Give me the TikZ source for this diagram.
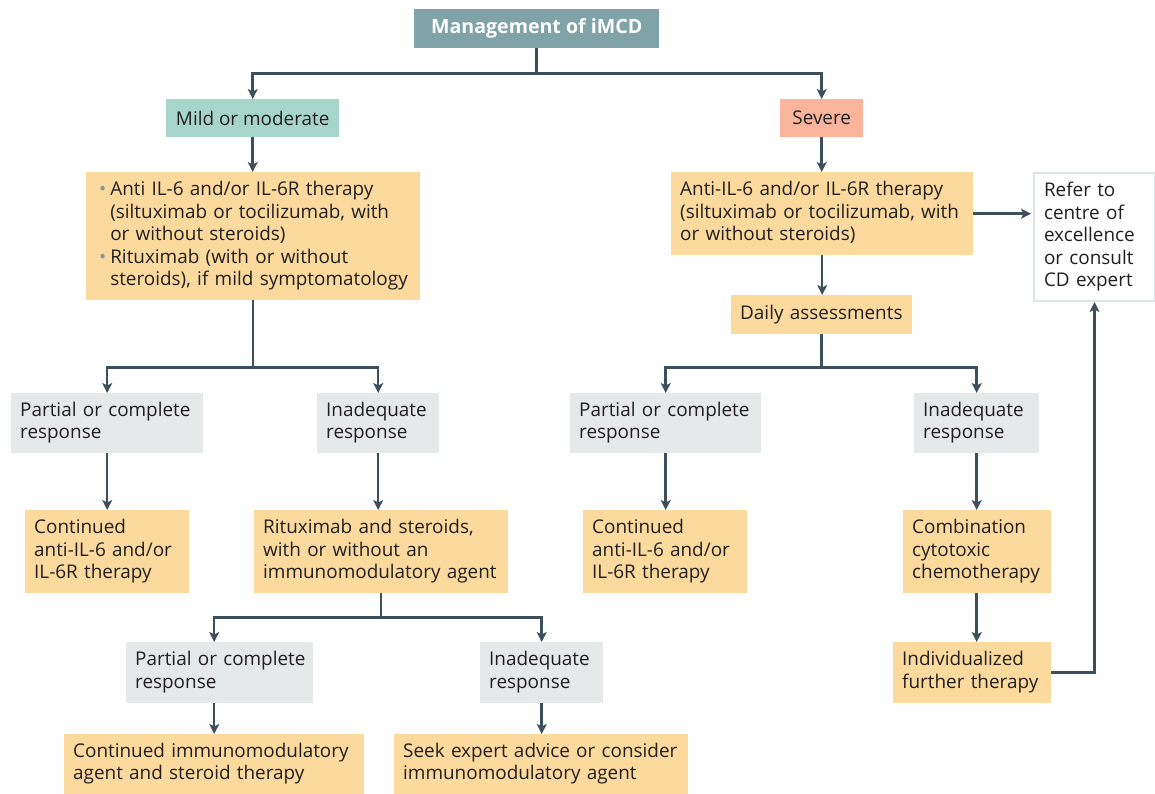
\documentclass[tikz,border=0pt]{standalone}
\usepackage{fontspec}
\setmainfont{Open Sans}
\usetikzlibrary{arrows.meta}
\definecolor{ttl}{HTML}{7FA3A6}
\definecolor{mildc}{HTML}{A6D5CA}
\definecolor{sevc}{HTML}{F9B59C}
\definecolor{yel}{HTML}{FCDA9E}
\definecolor{gry}{HTML}{E5E9E9}
\definecolor{lnc}{HTML}{3D4F5B}
\definecolor{bord}{HTML}{DCE4E4}
\definecolor{bul}{HTML}{8A949A}
\definecolor{txt}{HTML}{231F20}
\newcommand{\lns}[1]{\begin{tabular}{@{}l@{}}#1\end{tabular}}
\tikzset{
  box/.style={anchor=north west, inner xsep=9pt, inner ysep=0pt, align=left,
    font=\fontsize{18.9}{22.5}\selectfont, text=txt},
  ybox/.style={box, fill=yel},
  gbox/.style={box, fill=gry},
  cbox/.style={anchor=north west, inner sep=0pt, align=center,
    font=\fontsize{18.9}{22.5}\selectfont, text=txt},
  ln/.style={draw=lnc, line width=2.5pt},
  arr/.style={ln, -{Stealth[length=10pt,width=10pt,inset=2.5pt]}}
}
\begin{document}
\begin{tikzpicture}[x=1pt,y=-1pt]
\useasboundingbox[fill=white] (0,0) rectangle (1155,794);
% title
\node[cbox, fill=ttl, text=white, minimum width=245pt, minimum height=39pt,
  font=\fontsize{19.6}{22.5}\selectfont\bfseries] (title) at (414,9) {Management of iMCD};
\node[cbox, fill=mildc, minimum width=173pt, minimum height=38pt] (mild) at (166,99) {Mild or moderate};
\node[cbox, fill=sevc, minimum width=83pt, minimum height=38pt] (severe) at (780,99) {Severe};
% left branch
\node[ybox, inner xsep=13pt, text width=308pt, minimum height=128pt] (b1) at (86,172) {%
\begin{tabular}{@{}l@{\hspace{4pt}}l@{}}
\textcolor{bul}{\textbullet} & Anti IL-6 and/or IL-6R therapy\\
& (siltuximab or tocilizumab, with\\
& or without steroids)\\
\textcolor{bul}{\textbullet} & Rituximab (with or without\\
& steroids), if mild symptomatology
\end{tabular}};
\node[gbox, text width=174pt, minimum height=60pt] (pl) at (11,393) {\lns{Partial or complete\\response}};
\node[gbox, text width=104pt, minimum height=60pt] (il) at (317,393) {\lns{Inadequate\\response}};
\node[ybox, text width=146pt, minimum height=83pt] (cl) at (25,510) {\lns{Continued\\anti-IL-6 and/or\\IL-6R therapy}};
\node[ybox, text width=236pt, minimum height=83pt] (rit) at (254,510) {\lns{Rituximab and steroids,\\with or without an\\immunomodulatory agent}};
\node[gbox, text width=169pt, minimum height=61pt] (p2) at (126,642) {\lns{Partial or complete\\response}};
\node[gbox, text width=105pt, minimum height=61pt] (i2) at (480,642) {\lns{Inadequate\\response}};
\node[ybox, text width=282pt, minimum height=60pt] (c2) at (64,734) {\lns{Continued immunomodulatory\\agent and steroid therapy}};
\node[ybox, text width=276pt, minimum height=60pt] (seek) at (394,734) {\lns{Seek expert advice or consider\\immunomodulatory agent}};
% right branch
\node[ybox, text width=284pt, minimum height=83pt] (rb) at (671,172) {\lns{Anti-IL-6 and/or IL-6R therapy\\(siltuximab or tocilizumab, with\\or without steroids)}};
\node[box, draw=bord, line width=2pt, inner xsep=10pt, text width=101pt, minimum height=128pt] (refer) at (1033,172) {\lns{Refer to\\centre of\\excellence\\or consult\\CD expert}};
\node[ybox, text width=163pt, minimum height=39pt] (daily) at (731,295) {\lns{Daily assessments}};
\node[gbox, text width=173pt, minimum height=60pt] (pr) at (570,393) {\lns{Partial or complete\\response}};
\node[gbox, text width=107pt, minimum height=60pt] (ir) at (914,393) {\lns{Inadequate\\response}};
\node[ybox, text width=146pt, minimum height=83pt] (cr) at (583,510) {\lns{Continued\\anti-IL-6 and/or\\IL-6R therapy}};
\node[ybox, text width=130pt, minimum height=83pt] (comb) at (903,510) {\lns{Combination\\cytotoxic\\chemotherapy}};
\node[ybox, text width=140pt, minimum height=61pt] (ind) at (893,642) {\lns{Individualized\\further therapy}};
% connectors
\draw[arr] (title.south) -- ++(0,25) -| (mild.north);
\draw[arr] (title.south) -- ++(0,25) -| (severe.north);
\draw[arr] (mild.south) -- (mild.south |- b1.north);
\draw[arr] (b1.south) -- ++(0,67) -| (pl.north);
\draw[arr] (b1.south) -- ++(0,67) -| (il.north);
\draw[arr] (pl.south) -- (pl.south |- cl.north);
\draw[arr] (il.south) -- (il.south |- rit.north);
\draw[arr] (rit.south) -- ++(0,24) -| (p2.north -| c2.north);
\draw[arr] (rit.south) -- ++(0,24) -| (i2.north);
\draw[arr] (p2.south -| c2.north) -- (c2.north);
\draw[arr] (i2.south) -- (i2.south |- seek.north);
\draw[arr] (severe.south) -- (severe.south |- rb.north);
\draw[arr, shorten >=2pt] (rb.east) -- (rb.east -| refer.west);
\draw[arr] (rb.south) -- (rb.south |- daily.north);
\draw[arr] (daily.south) -- ++(0,33) -| (pr.north);
\draw[arr] (daily.south) -- ++(0,33) -| (ir.north);
\draw[arr] (pr.south) -- (pr.south |- cr.north);
\draw[arr] (ir.south) -- (ir.south |- comb.north);
\draw[arr] (comb.south -| ir.south) -- (ind.north -| ir.south);
\draw[arr] (ind.east) -| (refer.south);
\end{tikzpicture}
\end{document}
